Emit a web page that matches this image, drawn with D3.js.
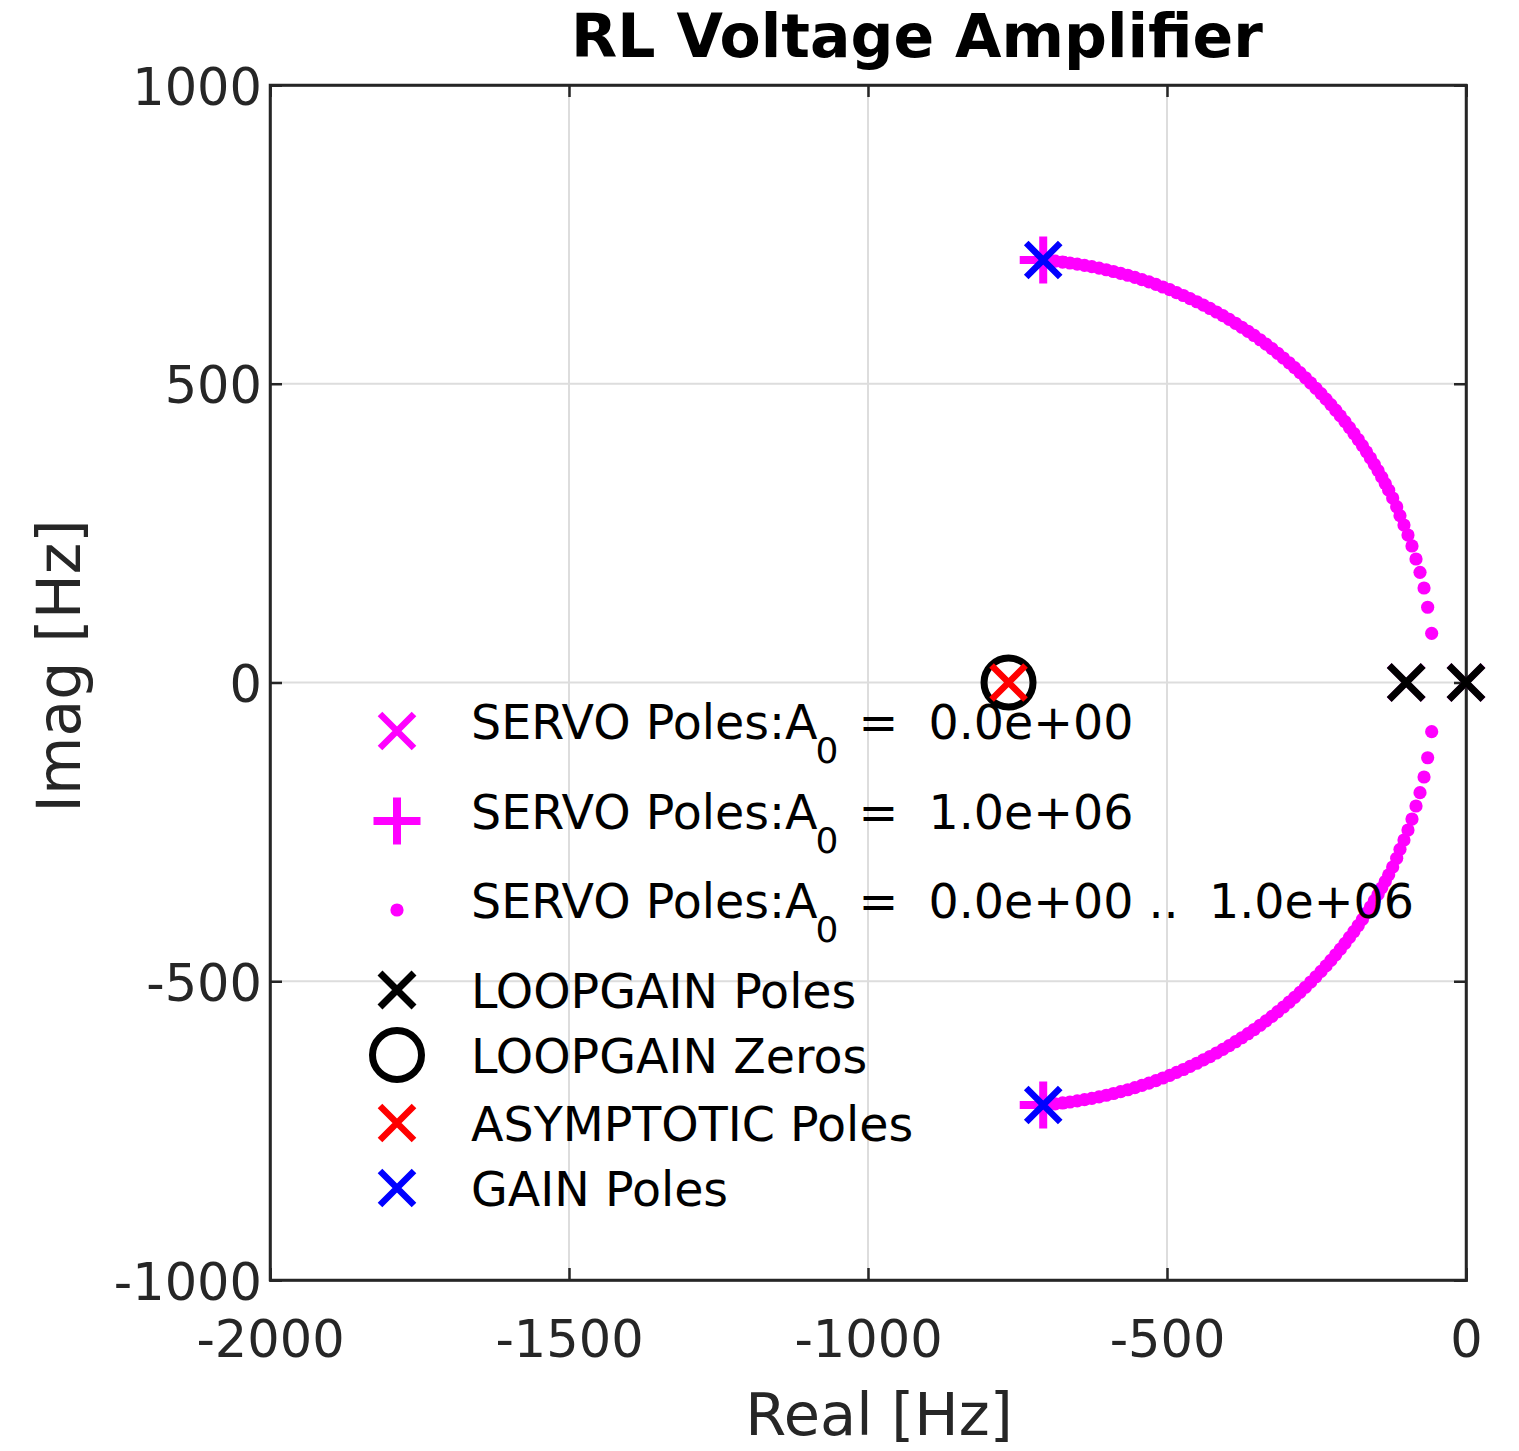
<!DOCTYPE html>
<html>
<head>
<meta charset="utf-8">
<script src="https://cdn.jsdelivr.net/npm/d3@7"></script>
<style>
  body { margin: 0; background: #fff; }
  text { font-family: "DejaVu Sans", sans-serif; }
</style>
</head>
<body>
<div class="chart"></div>
<script>
// Root locus, RL voltage amplifier

var xTicks = [-2000, -1500, -1000, -500, 0];
var yTicks = [-1000, -500, 0, 500, 1000];

// servo poles at A0 = 0 (same place as the loop gain poles)
var servoStart = [[-100, 0], [0, 0]];
// servo poles at A0 = 1e6
var servoEnd = [[-707, 707], [-707, -707]];

// servo poles while A0 sweeps 0 .. 1e6, upper branch
var servoUpper = [
  [-57.4, 82.3], [-64.1, 125.9], [-70.2, 158.2], [-76.9, 184.4], [-83.6, 206.7], [-90.3, 228.5],
  [-97.0, 246.9], [-103.7, 263.6], [-110.4, 279.2], [-115.9, 294.2], [-122.6, 308.8],
  [-129.3, 321.9], [-135.0, 332.9], [-140.9, 343.7], [-147.0, 354.5], [-153.3, 365.1],
  [-159.8, 375.7], [-166.4, 386.1], [-173.2, 396.5], [-180.2, 406.7], [-187.4, 416.7],
  [-194.8, 426.7], [-202.3, 436.5], [-210.0, 446.2], [-217.9, 455.7], [-225.9, 465.2],
  [-234.1, 474.4], [-242.4, 483.5], [-251.0, 492.5], [-259.7, 501.3], [-268.5, 510.0],
  [-277.5, 518.6], [-286.6, 526.9], [-295.8, 535.1], [-305.3, 543.1], [-314.8, 551.0],
  [-324.5, 558.7], [-334.3, 566.2], [-344.3, 573.6], [-354.3, 580.8], [-364.5, 587.8],
  [-374.9, 594.6], [-385.3, 601.2], [-395.9, 607.7], [-406.5, 614.0], [-417.3, 620.1],
  [-428.1, 626.0], [-439.1, 631.7], [-450.2, 637.2], [-461.4, 642.6], [-472.6, 647.7],
  [-484.0, 652.6], [-495.4, 657.4], [-506.9, 661.9], [-518.5, 666.2], [-530.2, 670.4],
  [-541.9, 674.3], [-553.7, 678.0], [-565.6, 681.6], [-577.5, 684.8], [-589.5, 687.9],
  [-601.5, 690.8], [-613.6, 693.5], [-625.7, 696.0], [-637.9, 698.2], [-650.1, 700.3],
  [-662.3, 702.1], [-674.6, 703.7], [-686.9, 705.1], [-699.2, 706.3], [-707.1, 707.1]
];
// lower branch
var servoLower = [
  [-57.4, -82.3], [-64.1, -125.9], [-70.2, -158.2], [-76.9, -184.4], [-83.6, -206.7], [-90.3, -228.5],
  [-97.0, -246.9], [-103.7, -263.6], [-110.4, -279.2], [-115.9, -294.2], [-122.6, -308.8],
  [-129.3, -321.9], [-135.0, -332.9], [-140.9, -343.7], [-147.0, -354.5], [-153.3, -365.1],
  [-159.8, -375.7], [-166.4, -386.1], [-173.2, -396.5], [-180.2, -406.7], [-187.4, -416.7],
  [-194.8, -426.7], [-202.3, -436.5], [-210.0, -446.2], [-217.9, -455.7], [-225.9, -465.2],
  [-234.1, -474.4], [-242.4, -483.5], [-251.0, -492.5], [-259.7, -501.3], [-268.5, -510.0],
  [-277.5, -518.6], [-286.6, -526.9], [-295.8, -535.1], [-305.3, -543.1], [-314.8, -551.0],
  [-324.5, -558.7], [-334.3, -566.2], [-344.3, -573.6], [-354.3, -580.8], [-364.5, -587.8],
  [-374.9, -594.6], [-385.3, -601.2], [-395.9, -607.7], [-406.5, -614.0], [-417.3, -620.1],
  [-428.1, -626.0], [-439.1, -631.7], [-450.2, -637.2], [-461.4, -642.6], [-472.6, -647.7],
  [-484.0, -652.6], [-495.4, -657.4], [-506.9, -661.9], [-518.5, -666.2], [-530.2, -670.4],
  [-541.9, -674.3], [-553.7, -678.0], [-565.6, -681.6], [-577.5, -684.8], [-589.5, -687.9],
  [-601.5, -690.8], [-613.6, -693.5], [-625.7, -696.0], [-637.9, -698.2], [-650.1, -700.3],
  [-662.3, -702.1], [-674.6, -703.7], [-686.9, -705.1], [-699.2, -706.3], [-707.1, -707.1]
];

var loopPoles = [[-100, 0], [0, 0]];
var loopZeros = [[-765, 0]];
var asymPoles = [[-765, 0]];
var gainPoles = [[-707, 707], [-707, -707]];

var legendLabels = [
  ["SERVO Poles:A", "0", " =  0.0e+00"],
  ["SERVO Poles:A", "0", " =  1.0e+06"],
  ["SERVO Poles:A", "0", " =  0.0e+00 ..  1.0e+06"],
  ["LOOPGAIN Poles"],
  ["LOOPGAIN Zeros"],
  ["ASYMPTOTIC Poles"],
  ["GAIN Poles"]
];

var margin = {top: 85, right: 53, bottom: 171, left: 270},
    width  = 1519 - margin.left - margin.right,
    height = 1451 - margin.top - margin.bottom;

var svg = d3.select(".chart").append("svg")
    .attr("width", 1519)
    .attr("height", 1451);

var g = svg.append("g")
    .attr("transform", "translate(" + margin.left + "," + margin.top + ")");

var x = d3.scaleLinear().domain([-2000, 0]).range([0, width]);
var y = d3.scaleLinear().domain([-1000, 1000]).range([height, 0]);

// plain hyphen for negatives, like the original
var fmt = d => String(d);

// grid
g.selectAll(".gx").data(xTicks).enter().append("line")
    .attr("x1", d => x(d)).attr("x2", d => x(d))
    .attr("y1", 0).attr("y2", height)
    .attr("stroke", "#dddddd").attr("stroke-width", 2);
g.selectAll(".gy").data(yTicks).enter().append("line")
    .attr("y1", d => y(d)).attr("y2", d => y(d))
    .attr("x1", 0).attr("x2", width)
    .attr("stroke", "#dddddd").attr("stroke-width", 2);

// axes, ticks pointing inward
var axisColor = "#262626";

var xAxis = g.append("g").attr("transform", "translate(0," + height + ")")
    .call(d3.axisBottom(x).tickValues(xTicks).tickSize(-12).tickFormat(fmt));
xAxis.selectAll("text")
    .attr("y", 77).attr("dy", null)
    .style("font-size", "51px").attr("fill", axisColor);

var yAxis = g.append("g")
    .call(d3.axisLeft(y).tickValues(yTicks).tickSize(-12).tickFormat(fmt));
yAxis.selectAll("text")
    .attr("x", -8).attr("dy", 19)
    .style("font-size", "51px").attr("fill", axisColor);

g.append("g")
    .call(d3.axisTop(x).tickValues(xTicks).tickSize(-12).tickFormat(""));
g.append("g").attr("transform", "translate(" + width + ",0)")
    .call(d3.axisRight(y).tickValues(yTicks).tickSize(-12).tickFormat(""));

g.selectAll(".domain").attr("stroke", axisColor).attr("stroke-width", 2.5);
g.selectAll(".tick line").attr("stroke", axisColor).attr("stroke-width", 2.5);

// frame on top of grid
g.append("rect")
    .attr("x", 0).attr("y", 0).attr("width", width).attr("height", height)
    .attr("fill", "none").attr("stroke", axisColor).attr("stroke-width", 2.5);

// marker helpers
function crossPath(h) {
  return "M" + (-h) + "," + (-h) + "L" + h + "," + h + "M" + (-h) + "," + h + "L" + h + "," + (-h);
}
function plusPath(h) {
  return "M" + (-h) + ",0L" + h + ",0M0," + (-h) + "L0," + h;
}

function drawPath(sel, data, d, color, sw) {
  sel.selectAll(null).data(data).enter().append("path")
    .attr("transform", p => "translate(" + x(p[0]) + "," + y(p[1]) + ")")
    .attr("d", d)
    .attr("fill", "none")
    .attr("stroke", color)
    .attr("stroke-width", sw);
}

var marks = g.append("g");

drawPath(marks, servoStart, crossPath(17), "#ff00ff", 6.5);
drawPath(marks, servoEnd, plusPath(23.5), "#ff00ff", 8);

marks.selectAll(".dotU").data(servoUpper.concat(servoLower)).enter().append("circle")
    .attr("cx", d => x(d[0]))
    .attr("cy", d => y(d[1]))
    .attr("r", 6.6)
    .attr("fill", "#ff00ff");

drawPath(marks, loopPoles, crossPath(17), "#000000", 7);

marks.selectAll(".zero").data(loopZeros).enter().append("circle")
    .attr("cx", d => x(d[0]))
    .attr("cy", d => y(d[1]))
    .attr("r", 24.5)
    .attr("fill", "none")
    .attr("stroke", "#000000")
    .attr("stroke-width", 7);

drawPath(marks, asymPoles, crossPath(17), "#ff0000", 6.5);
drawPath(marks, gainPoles, crossPath(17), "#0000ff", 6.5);

// legend
var legRowsY = [731, 821, 910, 990, 1055, 1123, 1188];
var leg = svg.append("g");
var legX = 397;

function legendMarker(i, cy) {
  var t = "translate(" + legX + "," + cy + ")";
  if (i === 0) leg.append("path").attr("transform", t).attr("d", crossPath(17)).attr("stroke", "#ff00ff").attr("stroke-width", 6.5).attr("fill", "none");
  if (i === 1) leg.append("path").attr("transform", t).attr("d", plusPath(23.5)).attr("stroke", "#ff00ff").attr("stroke-width", 8).attr("fill", "none");
  if (i === 2) leg.append("circle").attr("cx", legX).attr("cy", cy).attr("r", 6.6).attr("fill", "#ff00ff");
  if (i === 3) leg.append("path").attr("transform", t).attr("d", crossPath(17)).attr("stroke", "#000").attr("stroke-width", 7).attr("fill", "none");
  if (i === 4) leg.append("circle").attr("cx", legX).attr("cy", cy).attr("r", 24.5).attr("fill", "none").attr("stroke", "#000").attr("stroke-width", 7);
  if (i === 5) leg.append("path").attr("transform", t).attr("d", crossPath(17)).attr("stroke", "#ff0000").attr("stroke-width", 6.5).attr("fill", "none");
  if (i === 6) leg.append("path").attr("transform", t).attr("d", crossPath(17)).attr("stroke", "#0000ff").attr("stroke-width", 6.5).attr("fill", "none");
}

legendLabels.forEach(function(lab, i) {
  var cy = legRowsY[i];
  legendMarker(i, cy);
  var txt = leg.append("text")
      .attr("x", 471)
      .attr("y", cy + (lab.length > 1 ? 8 : 18))
      .style("font-size", "47.5px")
      .style("white-space", "pre")
      .attr("fill", "#000");
  txt.append("tspan").text(lab[0]);
  if (lab.length > 1) {
    txt.append("tspan").attr("dx", -2).attr("dy", 24).style("font-size", "36px").text(lab[1]);
    txt.append("tspan").attr("dx", 5).attr("dy", -24).text(lab[2]);
  }
});

// titles
svg.append("text")
    .attr("x", 917).attr("y", 57)
    .attr("text-anchor", "middle")
    .style("font-size", "60px").style("font-weight", "bold")
    .attr("fill", "#000")
    .text("RL Voltage Amplifier");

svg.append("text")
    .attr("x", 879).attr("y", 1435)
    .attr("text-anchor", "middle")
    .style("font-size", "59px")
    .attr("fill", axisColor)
    .text("Real [Hz]");

svg.append("text")
    .attr("transform", "translate(80,666) rotate(-90)")
    .attr("text-anchor", "middle")
    .style("font-size", "60px")
    .attr("fill", axisColor)
    .text("Imag [Hz]");
</script>
</body>
</html>
